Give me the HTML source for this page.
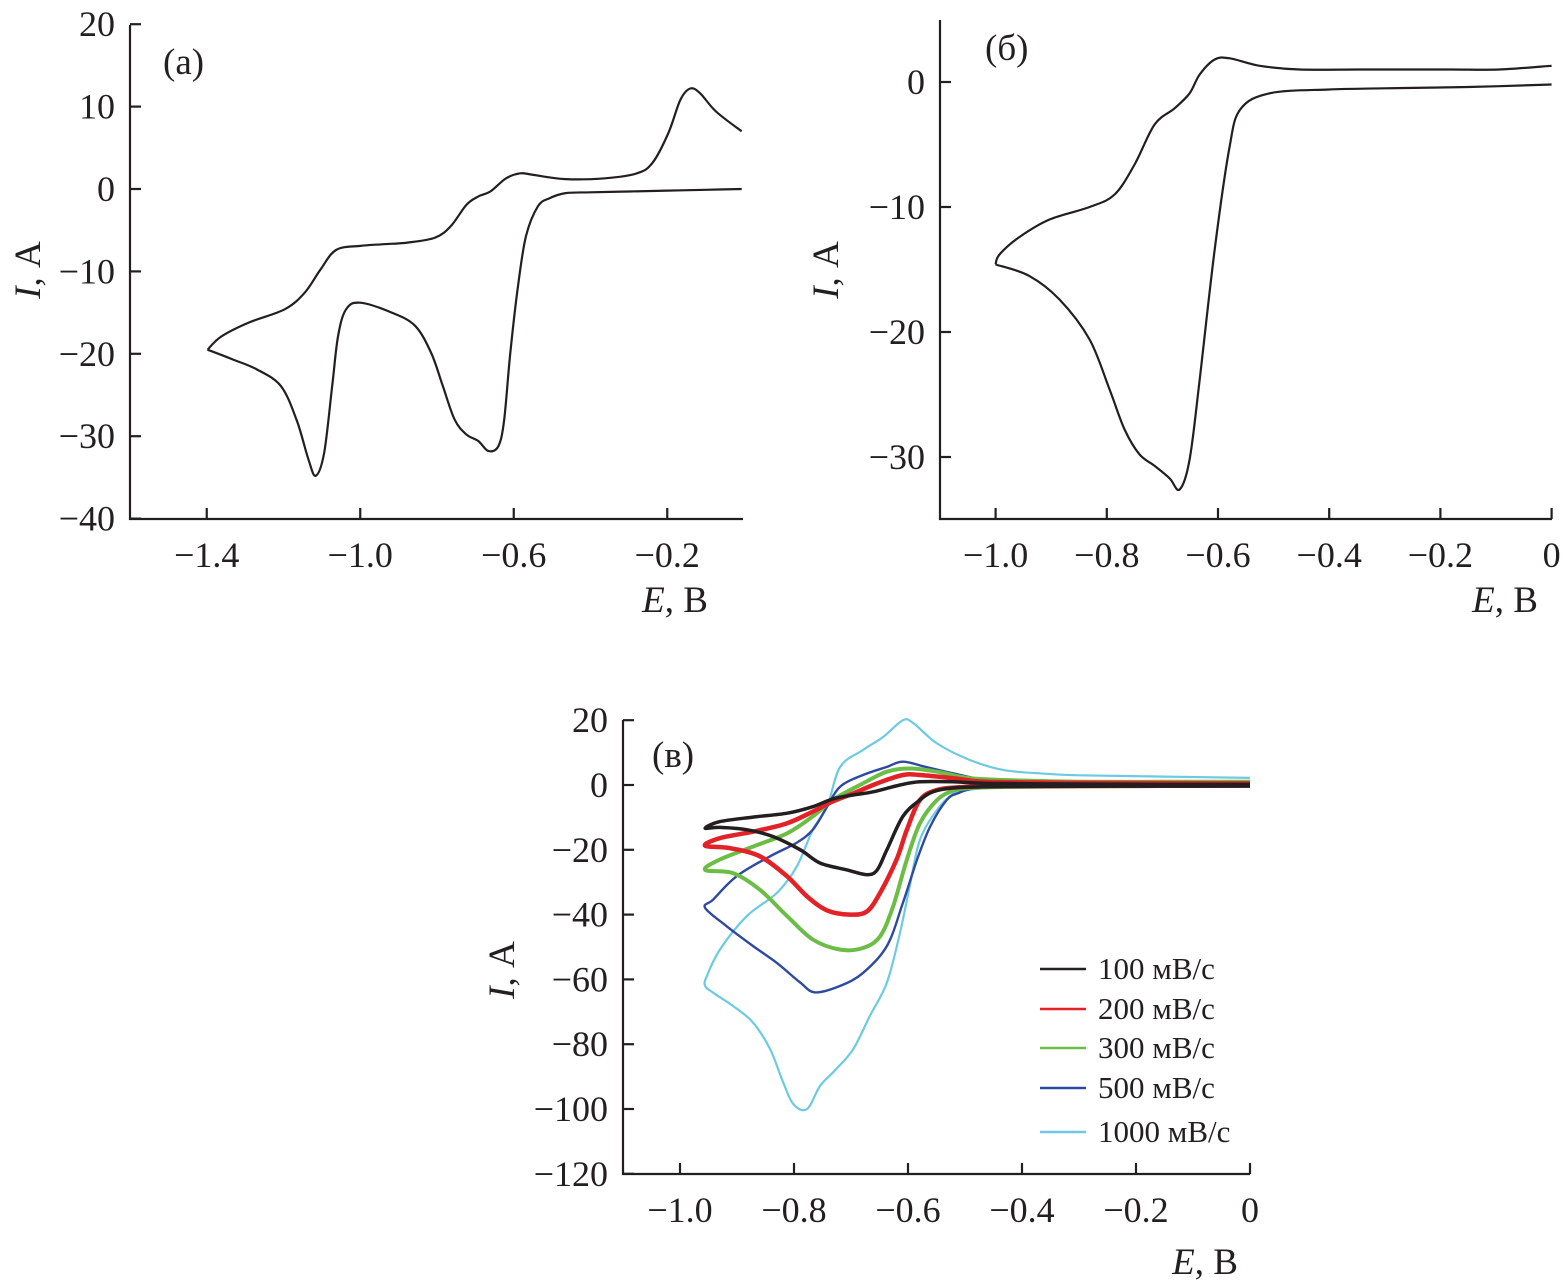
<!DOCTYPE html>
<html><head><meta charset="utf-8"><style>
body{margin:0;background:#fff}
svg{display:block;font-family:"Liberation Serif",serif}
text{fill:#231f20}
</style></head><body>
<svg id="s" width="1563" height="1288" viewBox="0 0 1563 1288"></svg>
<script>
// Panel (a) data: [E, I]
const aLower=[[-0.006,0],[-0.1,-0.1],[-0.2,-0.2],[-0.3,-0.3],[-0.4,-0.4],[-0.465,-0.5],[-0.506,-1.1],[-0.537,-2.1],[-0.568,-5.7],[-0.589,-11.8],[-0.609,-19.9],[-0.625,-28],[-0.640,-31.2],[-0.666,-31.8],[-0.692,-30.6],[-0.723,-29.8],[-0.754,-28],[-0.785,-23.9],[-0.815,-19.9],[-0.857,-16.6],[-0.918,-15.0],[-1.0,-13.8],[-1.037,-14.6],[-1.058,-17.9],[-1.073,-23.9],[-1.094,-32],[-1.116,-34.8],[-1.135,-32.8],[-1.166,-28],[-1.207,-23.9],[-1.269,-21.9],[-1.331,-20.7],[-1.398,-19.5]];
const aUpper=[[-1.398,-19.5],[-1.362,-17.9],[-1.29,-16.2],[-1.197,-14.6],[-1.145,-12.6],[-1.104,-9.8],[-1.063,-7.4],[-1.0,-6.9],[-0.94,-6.7],[-0.877,-6.5],[-0.805,-5.9],[-0.764,-4.5],[-0.723,-1.9],[-0.692,-0.9],[-0.661,-0.3],[-0.620,1.3],[-0.583,1.9],[-0.547,1.7],[-0.465,1.2],[-0.362,1.3],[-0.279,1.9],[-0.238,3.2],[-0.197,6.8],[-0.166,10.8],[-0.140,12.2],[-0.114,11.6],[-0.073,9.4],[-0.006,7.0]];
// Panel (б)
const bLower=[[0,-0.2],[-0.15,-0.4],[-0.3,-0.5],[-0.4,-0.6],[-0.507,-0.9],[-0.56,-2.2],[-0.58,-5.4],[-0.606,-13.4],[-0.633,-23.8],[-0.651,-30.2],[-0.669,-32.6],[-0.687,-31.7],[-0.714,-30.7],[-0.741,-29.8],[-0.768,-27.8],[-0.795,-24.6],[-0.831,-20.6],[-0.885,-17.4],[-0.94,-15.5],[-1.0,-14.6]];
const bUpper=[[-1.0,-14.6],[-0.993,-13.8],[-0.957,-12.4],[-0.903,-11],[-0.831,-10],[-0.786,-9],[-0.75,-6.6],[-0.714,-3.4],[-0.678,-2.1],[-0.651,-0.9],[-0.633,0.6],[-0.606,1.8],[-0.579,1.9],[-0.525,1.3],[-0.453,1.0],[-0.35,1.0],[-0.273,1.0],[-0.18,1.0],[-0.094,1.0],[0,1.3]];
// Panel (в)
const scanRates=["100 мВ/с","200 мВ/с","300 мВ/с","500 мВ/с","1000 мВ/с"];
const c100=[[0,-0.3],[-0.15,-0.35],[-0.3,-0.4],[-0.4,-0.5],[-0.47,-0.55],[-0.521,-0.9],[-0.555,-2],[-0.579,-4.6],[-0.609,-9.7],[-0.637,-20],[-0.654,-26.2],[-0.672,-27.7],[-0.707,-26.2],[-0.754,-24.1],[-0.789,-20],[-0.837,-15.9],[-0.883,-13.8],[-0.930,-13.1],[-0.956,-13.3],[-0.930,-11.3],[-0.872,-9.9],[-0.812,-8.7],[-0.767,-6.7],[-0.732,-4.3],[-0.696,-3.1],[-0.661,-2.1],[-0.614,0],[-0.579,1.0],[-0.521,1.0],[-0.461,0.5],[-0.3,0.3],[-0.15,0.2],[0,0.2]];
const c200=[[0,-0.2],[-0.15,-0.25],[-0.3,-0.3],[-0.45,-0.4],[-0.51,-0.7],[-0.549,-1.5],[-0.579,-4.6],[-0.602,-13.8],[-0.620,-23],[-0.649,-33.3],[-0.672,-39],[-0.702,-40],[-0.742,-38.7],[-0.777,-34.4],[-0.812,-28.2],[-0.860,-22],[-0.912,-19.5],[-0.956,-18.7],[-0.930,-16.4],[-0.872,-14.4],[-0.812,-11.8],[-0.767,-8.2],[-0.732,-5.1],[-0.696,-2.6],[-0.654,0.5],[-0.609,3.1],[-0.579,3.1],[-0.521,2.1],[-0.461,1.0],[-0.3,0.7],[-0.15,0.6],[0,0.5]];
const c300=[[0,-0.2],[-0.15,-0.3],[-0.3,-0.4],[-0.43,-0.6],[-0.49,-0.9],[-0.521,-1.8],[-0.549,-4.6],[-0.579,-11.8],[-0.602,-23],[-0.626,-37.4],[-0.649,-46.7],[-0.679,-50.3],[-0.719,-50.8],[-0.767,-47.7],[-0.812,-40.5],[-0.860,-32.3],[-0.907,-27.2],[-0.956,-26.2],[-0.930,-23],[-0.872,-19],[-0.812,-14.9],[-0.767,-9.7],[-0.732,-4.6],[-0.679,0.5],[-0.637,4.1],[-0.597,5.1],[-0.549,4.1],[-0.491,2.1],[-0.4,1.4],[-0.3,1.0],[-0.15,1.0],[0,1.0]];
const c500=[[0,-0.1],[-0.15,-0.2],[-0.3,-0.3],[-0.42,-0.5],[-0.47,-0.7],[-0.491,-1.2],[-0.512,-2.5],[-0.532,-4.6],[-0.561,-12.8],[-0.584,-23],[-0.609,-36.4],[-0.637,-49.7],[-0.679,-58],[-0.719,-62],[-0.763,-64],[-0.789,-61],[-0.830,-54.9],[-0.872,-49.7],[-0.918,-43.6],[-0.956,-37.9],[-0.942,-35.4],[-0.901,-28.2],[-0.842,-22],[-0.796,-17.9],[-0.767,-13.8],[-0.742,-6.7],[-0.719,-0.5],[-0.679,3.1],[-0.637,5.6],[-0.609,7.2],[-0.569,5.6],[-0.521,3.6],[-0.461,1.5],[-0.38,1.0],[-0.3,0.8],[-0.15,0.6],[0,0.5]];
const c1000=[[0,0],[-0.15,-0.1],[-0.3,-0.2],[-0.4,-0.5],[-0.461,-1.0],[-0.495,-1.6],[-0.521,-2.8],[-0.549,-7.7],[-0.579,-16.9],[-0.597,-31.3],[-0.614,-45.6],[-0.637,-61],[-0.667,-71.3],[-0.696,-81.5],[-0.726,-87.7],[-0.754,-92.8],[-0.777,-100],[-0.801,-98.5],[-0.819,-91.8],[-0.842,-81.5],[-0.872,-73.3],[-0.907,-68.2],[-0.942,-64.1],[-0.956,-62],[-0.953,-59],[-0.930,-50.8],[-0.883,-40.5],[-0.830,-33.3],[-0.795,-25.1],[-0.767,-13.8],[-0.742,-6.7],[-0.719,5.6],[-0.679,10.8],[-0.643,14.9],[-0.609,20],[-0.590,19],[-0.549,12.8],[-0.491,7.7],[-0.432,4.6],[-0.36,3.5],[-0.3,3],[-0.15,2.6],[0,2.2]];
const aXTicks=[-1.4,-1.0,-0.6,-0.2], aYTicks=[20,10,0,-10,-20,-30,-40];
const bXTicks=[-1.0,-0.8,-0.6,-0.4,-0.2,0], bYTicks=[0,-10,-20,-30];
const cXTicks=[-1.0,-0.8,-0.6,-0.4,-0.2,0], cYTicks=[20,0,-20,-40,-60,-80,-100,-120];

const NS="http://www.w3.org/2000/svg", S=document.getElementById('s');
function mk(tag,attrs,parent,txt){const e=document.createElementNS(NS,tag);for(const k in attrs)e.setAttribute(k,attrs[k]);if(txt!==undefined)e.textContent=txt;(parent||S).appendChild(e);return e;}
function fmt(v,dec){if(v===0)return "0";const s=Math.abs(v).toFixed(dec);return (v<0?"−":"")+s;}
function smooth(pts){let d="M"+pts[0][0].toFixed(1)+","+pts[0][1].toFixed(1);for(let i=0;i<pts.length-1;i++){const p0=pts[Math.max(0,i-1)],p1=pts[i],p2=pts[i+1],p3=pts[Math.min(pts.length-1,i+2)];const c1=[p1[0]+(p2[0]-p0[0])/6,p1[1]+(p2[1]-p0[1])/6],c2=[p2[0]-(p3[0]-p1[0])/6,p2[1]-(p3[1]-p1[1])/6];d+="C"+c1.map(v=>v.toFixed(1))+" "+c2.map(v=>v.toFixed(1))+" "+p2.map(v=>v.toFixed(1));}return d;}
function panel(cfg){
  const g=mk('g',{});
  
  
  const X=e=>cfg.x0+(e-cfg.e0)*cfg.sx, Y=i=>cfg.y0-i*cfg.sy;
  const ax=mk('path',{d:`M${cfg.ax} ${cfg.top}V${cfg.bot}H${cfg.right}`,stroke:'#231f20','stroke-width':2.2,fill:'none'},g);
  
  
  cfg.yt.forEach(v=>{const y=Y(v);mk('line',{x1:cfg.ax,x2:cfg.ax+11,y1:y,y2:y,stroke:'#231f20','stroke-width':2.2},g);
    const t=mk('text',{x:cfg.ax-15,y:y+12,'font-size':36,'text-anchor':'end'},g,fmt(v,0));
    
    });
  cfg.xt.forEach(v=>{const x=X(v);mk('line',{x1:x,x2:x,y1:cfg.bot,y2:cfg.bot-11,stroke:'#231f20','stroke-width':2.2},g);
    const t=mk('text',{x:x,y:cfg.bot+48,'font-size':36,'text-anchor':'middle'},g,fmt(v,1));
    
    });
  cfg.series.forEach(s=>{const p=mk('path',{d:smooth(s.d.map(q=>[X(q[0]),Y(q[1])])),stroke:s.c,'stroke-width':s.w||2.2,fill:'none','stroke-linejoin':'round'},g);
    
    });
  const xl=mk('text',{x:cfg.xl[0],y:cfg.xl[1],'font-size':37,'text-anchor':'middle'},g);
  
  
  mk('tspan',{'font-style':'italic'},xl,'E');mk('tspan',{},xl,', В');
  const yl=mk('text',{x:cfg.yl[0],y:cfg.yl[1],'font-size':37,'text-anchor':'middle',transform:`rotate(-90 ${cfg.yl[0]} ${cfg.yl[1]})`},g);
  
  
  mk('tspan',{'font-style':'italic'},yl,'I');mk('tspan',{},yl,', А');
  const pl=mk('text',{x:cfg.pl[0],y:cfg.pl[1],'font-size':37},g,cfg.label);
  
  
  return {g,X,Y};
}
panel({name:'panel-a',x0:130,e0:-1.6,sx:383.75,y0:189,sy:8.24,ax:130,top:25,bot:519,right:743,xt:aXTicks,yt:aYTicks,
  series:[{d:aLower,c:'#231f20',n:'cv-lower'},{d:aUpper,c:'#231f20',n:'cv-upper'}],xl:[675,612],yl:[40,270],pl:[163,74],label:'(а)'});
panel({name:'panel-b',x0:940,e0:-1.1,sx:556,y0:82,sy:12.5,ax:940,top:20,bot:519,right:1552,xt:bXTicks,yt:bYTicks,
  series:[{d:bLower,c:'#231f20',n:'cv-lower'},{d:bUpper,c:'#231f20',n:'cv-upper'}],xl:[1505,612],yl:[838,270],pl:[985,60],label:'(б)'});
const colors=['#231f20','#e32227','#6cbd45','#2e4aa0','#6ccbe0'];
const cData=[c100,c200,c300,c500,c1000];
const widths=[3.5,4.5,4,2.4,2.2];
const order=[4,3,2,1,0];
panel({name:'panel-c',x0:623,e0:-1.1,sx:570,y0:785,sy:3.24,ax:623,top:720,bot:1174,right:1250,xt:cXTicks,yt:cYTicks,
  series:order.map(i=>({d:cData[i],c:colors[i],w:widths[i],n:'cv-'+scanRates[i].split(' ')[0]})),xl:[1205,1274],yl:[514,970],pl:[652,767],label:'(в)'});
scanRates.forEach((r,i)=>{const y=[969,1009,1048,1088,1132][i];
  const g=mk('g',{});
  
  
  mk('line',{x1:1040,x2:1086,y1:y,y2:y,stroke:colors[i],'stroke-width':2.5},g);
  mk('text',{x:1098,y:y+10,'font-size':31},g,r);});
</script>
</body></html>
